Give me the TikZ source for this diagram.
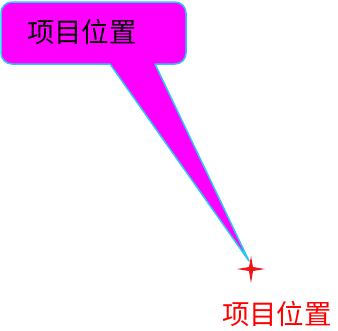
\documentclass[tikz,border=0pt]{standalone}
\usepackage{fontspec}
\newfontfamily\cjk{Noto Sans CJK SC}
\definecolor{calloutfill}{RGB}{255,0,255}
\definecolor{calloutline}{RGB}{40,200,240}
\definecolor{starred}{RGB}{240,20,20}
\tikzset{
  calloutshape/.style={fill=calloutfill, draw=calloutline, line width=1.5bp, line join=round},
  labeltext/.style={font=\cjk\fontsize{27.5}{30}\selectfont, inner sep=0pt},
}
\begin{document}
\begin{tikzpicture}[x=1bp, y=-1bp]
\useasboundingbox (0,0) rectangle (338,331);
% callout box with tail
\draw[calloutshape]
  (110,64) {[rounded corners=11bp] -- (1,64) -- (1,2) -- (186,2) -- (186,64)} -- (155,64)
  -- (249,261) -- cycle;
\node[labeltext, text=black] (boxlabel) at (82,32) {项目位置};
% star marker
\coordinate (pos) at (251,269);
\fill[starred] (pos) +(-14,0) -- +(-2,-2) -- +(0,-13) -- +(2,-2) -- +(14,0) -- +(2,2) -- +(0,14) -- +(-2,2) -- cycle;
\node[labeltext, text=red] (poslabel) at (277,314) {项目位置};
\end{tikzpicture}
\end{document}
